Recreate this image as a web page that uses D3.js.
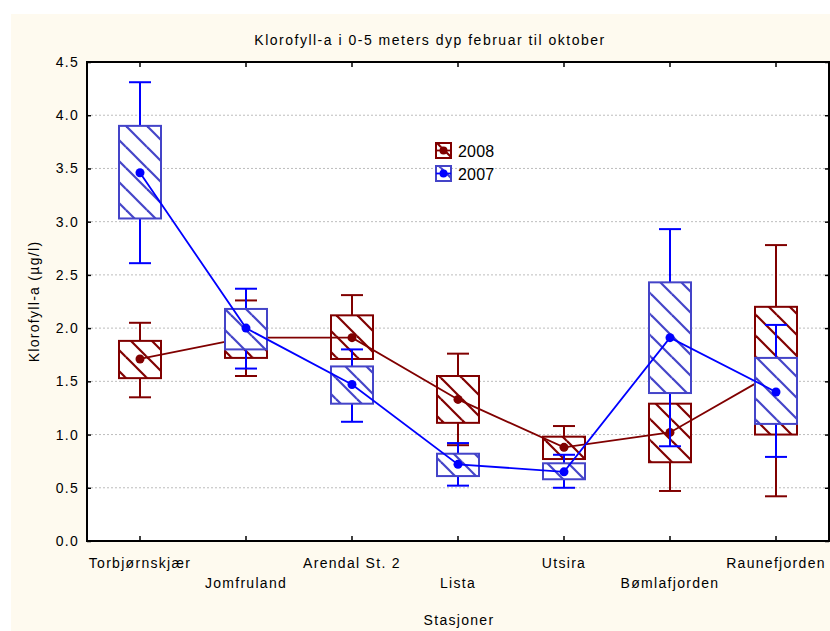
<!DOCTYPE html>
<html><head><meta charset="utf-8">
<script src="https://cdn.jsdelivr.net/npm/d3@7"></script>
<style>body{margin:0;background:#fff}svg{display:block}text{font-family:"Liberation Sans",Arial,sans-serif;fill:#000;letter-spacing:1.3px}</style>
</head><body><svg id="c" width="830" height="631"></svg>
<script>
const categories = ["Torbjørnskjær","Jomfruland","Arendal St. 2","Lista","Utsira","Bømlafjorden","Raunefjorden"];
// 2008 series: whisker low, box low, mean, box high, whisker high
const s2008_wlo = [1.35,1.55,1.55,0.90,0.70,0.47,0.42];
const s2008_blo = [1.53,1.72,1.71,1.11,0.77,0.74,1.00];
const s2008_mean= [1.71,1.91,1.91,1.33,0.88,1.02,1.59];
const s2008_bhi = [1.88,2.15,2.12,1.55,0.98,1.29,2.20];
const s2008_whi = [2.05,2.26,2.31,1.76,1.08,1.50,2.78];
// 2007 series
const s2007_wlo = [2.61,1.62,1.12,0.52,0.50,0.89,0.79];
const s2007_blo = [3.03,1.80,1.29,0.61,0.58,1.39,1.10];
const s2007_mean= [3.46,2.00,1.47,0.72,0.65,1.91,1.40];
const s2007_bhi = [3.90,2.18,1.64,0.82,0.73,2.43,1.72];
const s2007_whi = [4.31,2.37,1.80,0.92,0.81,2.93,2.03];
const yTicks = [0,0.5,1,1.5,2,2.5,3,3.5,4,4.5];
const seriesNames = ["2008","2007"];

const svg = d3.select("#c");
const W=830,H=631, L=87, R=829, T=62, B=541;
const defs = svg.append("defs");
function hatch(id,color){
  const p=defs.append("pattern").attr("id",id).attr("patternUnits","userSpaceOnUse").attr("width",21).attr("height",21);
  p.append("rect").attr("width",21).attr("height",21).attr("fill","#fff");
  [[-21,0],[0,0],[21,0],[0,-21],[0,21]].forEach(([dx,dy])=>{
    p.append("line").attr("x1",dx).attr("y1",dy).attr("x2",dx+21).attr("y2",dy+21).attr("stroke",color).attr("stroke-width",2.2);
  });
}
hatch("h08","#800000"); hatch("h07","#4444c8");

svg.append("rect").attr("x",11).attr("y",14).attr("width",W-11).attr("height",H-14).attr("fill","#fefaef");
svg.append("rect").attr("x",L).attr("y",T).attr("width",R-L).attr("height",B-T).attr("fill","#fff");

const x = d3.scaleBand().domain(categories).range([L,R]);
const y = d3.scaleLinear().domain([0,4.5]).range([B,T]);
const cx = c => x(c)+x.bandwidth()/2;

// grid
svg.append("g").selectAll("line").data(yTicks.filter(v=>v>0&&v<4.5)).join("line")
  .attr("x1",L).attr("x2",R).attr("y1",d=>y(d)).attr("y2",d=>y(d))
  .attr("stroke","#bdbdbd").attr("stroke-dasharray","2,2").attr("stroke-width",1);

function drawSeries(wlo,blo,mean,bhi,whi,lineColor,boxColor,pat){
  const g=svg.append("g");
  const bw=42, cw=22;
  categories.forEach((c,i)=>{
    const X=cx(c);
    g.append("line").attr("x1",X).attr("x2",X).attr("y1",y(whi[i])).attr("y2",y(bhi[i])).attr("stroke",lineColor).attr("stroke-width",2);
    g.append("line").attr("x1",X).attr("x2",X).attr("y1",y(blo[i])).attr("y2",y(wlo[i])).attr("stroke",lineColor).attr("stroke-width",2);
    g.append("line").attr("x1",X-cw/2).attr("x2",X+cw/2).attr("y1",y(whi[i])).attr("y2",y(whi[i])).attr("stroke",lineColor).attr("stroke-width",2);
    g.append("line").attr("x1",X-cw/2).attr("x2",X+cw/2).attr("y1",y(wlo[i])).attr("y2",y(wlo[i])).attr("stroke",lineColor).attr("stroke-width",2);
    g.append("rect").attr("x",X-bw/2).attr("width",bw).attr("y",y(bhi[i])).attr("height",y(blo[i])-y(bhi[i]))
      .attr("fill",`url(#${pat})`).attr("stroke",boxColor).attr("stroke-width",2);
  });
  g.append("path").datum(mean).attr("fill","none").attr("stroke",lineColor).attr("stroke-width",1.8)
    .attr("d",d3.line().x((d,i)=>cx(categories[i])).y(d=>y(d)));
  g.selectAll("circle").data(mean).join("circle").attr("cx",(d,i)=>cx(categories[i])).attr("cy",d=>y(d)).attr("r",4.5).attr("fill",lineColor);
}
drawSeries(s2008_wlo,s2008_blo,s2008_mean,s2008_bhi,s2008_whi,"#800000","#800000","h08");
drawSeries(s2007_wlo,s2007_blo,s2007_mean,s2007_bhi,s2007_whi,"#0000ff","#4444c8","h07");

// frame
svg.append("rect").attr("x",L).attr("y",T).attr("width",R-L).attr("height",B-T).attr("fill","none").attr("stroke","#000").attr("stroke-width",2);

// axes
const yl = svg.append("g").attr("transform",`translate(${L},0)`).call(d3.axisLeft(y).tickValues(yTicks).tickFormat(d3.format(".1f")).tickSizeInner(-4).tickSizeOuter(0).tickPadding(8));
const yr = svg.append("g").attr("transform",`translate(${R},0)`).call(d3.axisRight(y).tickValues(yTicks).tickFormat("").tickSizeInner(-4).tickSizeOuter(0));
const xb = svg.append("g").attr("transform",`translate(0,${B})`).call(d3.axisBottom(x).tickSizeInner(-5).tickSizeOuter(0).tickPadding(0));
const xt = svg.append("g").attr("transform",`translate(0,${T})`).call(d3.axisTop(x).tickFormat("").tickSizeInner(-5).tickSizeOuter(0));
[yl,yr,xb,xt].forEach(g=>{g.select(".domain").remove();g.selectAll(".tick line").attr("stroke","#000").attr("stroke-width",1.5);});
yl.selectAll("text").attr("font-size",14).style("font-family","Liberation Sans, Arial");
xb.selectAll(".tick text").attr("font-size",14).style("font-family","Liberation Sans, Arial")
  .attr("dy",null).attr("y",(d,i)=> i%2===0 ? 27 : 47);

// titles
svg.append("text").attr("x",430).attr("y",45).attr("text-anchor","middle").attr("font-size",14).style("letter-spacing","1.5px").text("Klorofyll-a i 0-5 meters dyp februar til oktober");
svg.append("text").attr("x",459).attr("y",625).attr("text-anchor","middle").attr("font-size",14).text("Stasjoner");
svg.append("text").attr("transform",`translate(39,${(T+B)/2}) rotate(-90)`).attr("text-anchor","middle").attr("font-size",14).text("Klorofyll-a (µg/l)");

// legend
const leg = svg.append("g");
const legColors=[["#800000","#800000","h08"],["#0000ff","#4444c8","h07"]];
seriesNames.forEach((n,i)=>{
  const ly=143+i*23;
  leg.append("rect").attr("x",436).attr("y",ly).attr("width",15).attr("height",15).attr("fill",`url(#${legColors[i][2]})`).attr("stroke",legColors[i][1]).attr("stroke-width",2);
  leg.append("line").attr("x1",436).attr("x2",451).attr("y1",ly+7.5).attr("y2",ly+7.5).attr("stroke",legColors[i][0]).attr("stroke-width",1.8);
  leg.append("circle").attr("cx",443.5).attr("cy",ly+7.5).attr("r",4).attr("fill",legColors[i][0]);
  leg.append("text").attr("x",458).attr("y",ly+14).attr("font-size",16).style("letter-spacing","0.2px").text(n);
});
</script></body></html>
